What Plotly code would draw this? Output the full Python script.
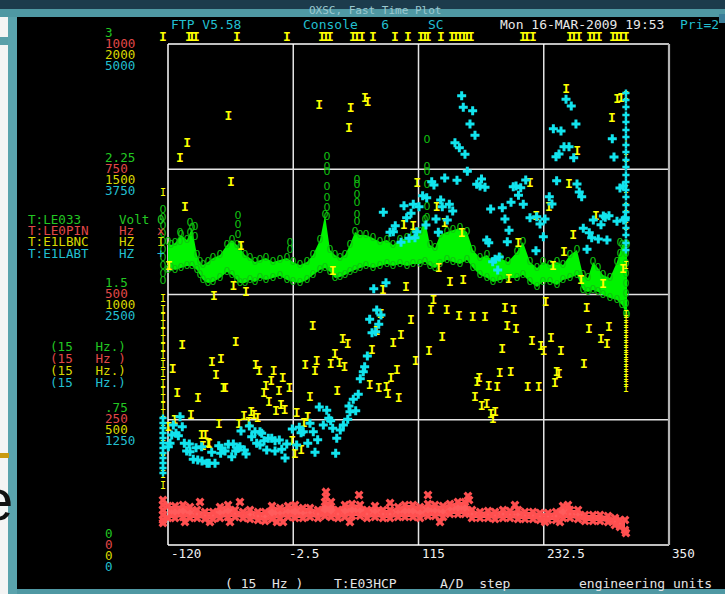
import plotly.graph_objects as go

# ---------------- data ----------------
X_RANGE = [-120, 350]
X_GRID = [-2.5, 115, 232.5]
X_TICK_VALUES = [-120, -2.5, 115, 232.5, 350]
X_TICK_TEXT = ["-120", "-2.5", "115", "232.5", "350"]

CH_NAMES = ["T:LE033", "T:LE0PIN", "T:E1LBNC", "T:E1LABT"]
CH_UNITS = ["Volt", "Hz", "HZ", "HZ"]
CH_SYMBOLS = ["0", "x", "I", "+"]
CH_RATES = ["(15   Hz.)", "(15   Hz )", "(15   Hz.)", "(15   Hz.)"]
CH_MAX = [3, 1000, 2000, 5000]
GREEN_TICKS = ["0", ".75", "1.5", "2.25", "3"]
RED_TICKS = ["0", "250", "500", "750", "1000"]
YELLOW_TICKS = ["0", "500", "1000", "1500", "2000"]
CYAN_TICKS = ["0", "1250", "2500", "3750", "5000"]

HEADER = ["FTP V5.58", "Console   6", "SC", "Mon 16-MAR-2009 19:53", "Pri=2"]
FOOTER = ["( 15  Hz )", "T:E03HCP", "A/D  step", "engineering units"]
WINDOW_TITLE = "OXSC, Fast Time Plot"

# T:LE033 (Volt) -- dense band: lower / upper envelope
GREEN_X = [-120.0, -117.2, -113.4, -107.8, -102.2, -97.5, -92.8, -90.0, -87.2, -82.5,
           -77.8, -71.2, -64.7, -60.0, -55.3, -52.5, -47.8, -43.1, -38.4, -33.7,
           -28.1, -21.5, -15.0, -8.4, -2.7, 3.8, 10.4, 16.0, 22.6, 27.3,
           32.0, 36.7, 41.4, 46.0, 50.7, 55.4, 60.1, 65.7, 72.3, 78.9,
           85.4, 91.1, 97.6, 104.2, 109.8, 116.4, 121.1, 125.8, 130.5, 135.2,
           141.7, 147.4, 153.9, 160.5, 166.1, 172.7, 179.3, 184.9, 191.5, 199.0,
           207.4, 213.0, 219.6, 226.2, 231.8, 238.4, 244.9, 250.6, 257.1, 263.7,
           269.3, 274.0, 278.7, 283.4, 288.1, 294.6, 301.2, 305.9, 310.6]
GREEN_HI = [1.814, 1.796, 1.808, 1.856, 1.826, 1.898, 1.737, 1.695, 1.677, 1.695,
            1.719, 1.737, 1.796, 1.826, 1.796, 1.778, 1.737, 1.719, 1.695, 1.707,
            1.719, 1.695, 1.707, 1.719, 1.695, 1.677, 1.695, 1.737, 1.826, 1.976,
            1.766, 1.737, 1.719, 1.737, 1.796, 1.874, 1.856, 1.856, 1.838, 1.814,
            1.826, 1.796, 1.826, 1.838, 1.856, 1.874, 1.946, 1.796, 1.778, 1.856,
            1.874, 1.886, 1.898, 1.874, 1.766, 1.719, 1.737, 1.695, 1.719, 1.695,
            1.755, 1.814, 1.695, 1.659, 1.695, 1.677, 1.695, 1.677, 1.737, 1.766,
            1.617, 1.599, 1.695, 1.659, 1.617, 1.599, 1.695, 1.796, 1.796]
GREEN_LO = [1.647, 1.659, 1.647, 1.659, 1.671, 1.671, 1.647, 1.617, 1.587, 1.569,
            1.575, 1.599, 1.635, 1.617, 1.587, 1.569, 1.569, 1.587, 1.575, 1.599,
            1.587, 1.599, 1.611, 1.587, 1.575, 1.569, 1.587, 1.617, 1.647, 1.659,
            1.635, 1.599, 1.605, 1.617, 1.635, 1.647, 1.659, 1.671, 1.659, 1.671,
            1.683, 1.671, 1.683, 1.671, 1.683, 1.683, 1.695, 1.671, 1.659, 1.683,
            1.707, 1.695, 1.683, 1.707, 1.659, 1.617, 1.599, 1.575, 1.587, 1.599,
            1.599, 1.617, 1.575, 1.545, 1.575, 1.575, 1.557, 1.587, 1.599, 1.617,
            1.527, 1.515, 1.527, 1.515, 1.497, 1.479, 1.467, 1.437, 1.377]
GREEN_PT_X = [29.2, 29.2, 29.2, 29.2, 29.2, 29.2, 29.2,
              57.3, 57.3, 57.3, 57.3, 57.3, 57.3,
              -54.3, -54.3, -54.3, -99.4, -99.4, -94.7, -94.7, -108.7, -108.7, -5.6, -5.6,
              123.0, 123.0, 123.0, 123.0, 123.0, 123.0, 304.0, 304.0,
              -124.7, -124.7, -124.7, -124.7, -124.7, -124.7, -124.7, -124.7, -124.7, -124.7,
              309.6, 309.6, 309.6, 309.6, 309.6, 309.6, 309.6, 309.6]
GREEN_PT_Y = [2.323, 2.263, 2.234, 2.144, 2.078, 2.018, 1.964,
              2.186, 2.156, 2.096, 2.048, 1.976, 1.934,
              1.970, 1.916, 1.856, 1.928, 1.868, 1.900, 1.840, 1.868, 1.814, 1.808, 1.766,
              2.425, 2.263, 2.234, 2.156, 2.024, 1.958, 1.808, 1.740,
              2.006, 1.958, 1.910, 1.862, 1.814, 1.766, 1.719, 1.671, 1.623, 1.581,
              1.80, 1.74, 1.68, 1.62, 1.56, 1.50, 1.44, 1.38]

# T:LE0PIN (Hz) -- band
RED_X = [-120.0, -113.4, -105.9, -99.4, -92.8, -85.3, -77.8, -71.2, -63.7, -57.1,
         -49.6, -43.1, -35.6, -29.0, -22.4, -14.9, -7.4, -0.8, 6.6, 13.2,
         20.7, 27.3, 32.9, 39.5, 46.0, 52.6, 60.1, 66.7, 74.2, 81.7,
         88.3, 95.8, 102.3, 109.8, 116.4, 123.9, 130.5, 138.0, 144.5, 152.0,
         158.6, 165.2, 172.7, 180.2, 186.8, 194.3, 200.8, 208.3, 214.9, 222.4,
         229.0, 236.5, 244.0, 250.6, 257.1, 264.6, 271.2, 278.7, 285.3, 292.8,
         299.3, 304.0, 308.7]
RED_HI = [78, 78, 80, 76, 70, 66, 66, 76, 80, 70,
          66, 70, 66, 66, 78, 74, 78, 80, 74, 74,
          70, 86, 86, 70, 80, 82, 80, 70, 78, 70,
          70, 76, 80, 80, 76, 82, 80, 78, 82, 86,
          86, 70, 66, 68, 66, 70, 68, 70, 66, 66,
          64, 64, 66, 78, 70, 70, 60, 60, 60, 58,
          54, 50, 50]
RED_LO = [54, 54, 56, 54, 54, 52, 52, 54, 56, 56,
          54, 52, 50, 48, 52, 54, 56, 54, 54, 56,
          54, 58, 56, 54, 56, 58, 58, 54, 56, 54,
          54, 56, 56, 56, 54, 58, 58, 56, 62, 62,
          62, 54, 54, 54, 52, 54, 54, 52, 52, 52,
          50, 50, 50, 54, 54, 52, 48, 48, 48, 46,
          40, 36, 30]
RED_PT_X = [28.2, 28.2, 59.2, 123.9, 161.4, 162.4, -90.0, -52.5, 88.3, 205.5, 255.2,
            -104.1, -80.6, -61.8, -17.8, -12.1, 50.7, 135.2, 233.7, 247.7, 309.6,
            -124.7, -124.7, -124.7, -124.7, -124.7, -124.7]
RED_PT_Y = [106, 96, 100, 100, 98, 90, 86, 86, 84, 80, 80,
            46, 46, 46, 46, 46, 46, 46, 46, 46, 24,
            90, 80, 70, 60, 50, 44]

# T:E1LBNC (HZ)
YELLOW_X = [-63.4, -101.9, -108.7, -60.9, -104.1, 21.9, 51.4, 64.8, 67.3, 49.8,
            113.8, 101.4, 110.1, -51.5, 34.5, -58.7, -46.8, -76.9, 81.7, 103.2,
            -119.1, 253.6, 301.4, 305.2, 296.5, 263.9, 219.6, 256.1, 132.0, 139.5,
            155.5, 237.4, 225.5, 281.5, 260.2, 208.6, 251.4, 133.9, 144.5, 157.0,
            199.6, 128.9, 241.1, 267.4, 288.0, 306.8,
            -106.6, -115.6, -111.3, -98.4, -91.9, -78.7, -70.3, -75.0, -68.1, -66.3,
            -56.5, -37.7, -34.4, -20.9, -12.4, -23.1, -28.1, -30.0, -15.9, -6.2,
            -25.3, -18.7, -10.5, -14.0, -41.9, -48.7, -39.3, -35.9, -53.4, -44.3,
            -72.2, -88.4, -85.0, -82.2, -81.3, -113.7, -119.7, -87.2,
            15.7, 43.9, 48.6, 36.6, 19.5, 8.8, 32.6, 40.7, 45.4, 17.9,
            13.2, 38.8, 0.7, 11.0, 7.6, -3.4, 5.0, -0.9,
            79.5, 75.8, 71.4, 69.2, 77.6, 84.8, 86.4, 89.2, 94.8, 91.3,
            98.6, 107.9, 112.3, 96.4,
            126.7, 141.4, 153.0, 165.8, 177.4, 137.3, 124.8, 196.1, 204.3, 198.3,
            206.4, 234.3, 221.4, 193.6, 229.9, 232.4, 239.3, 248.6, 191.1, 201.5,
            172.0, 170.1, 180.8, 188.9, 168.0, 174.3, 178.9, 183.0, 187.0, 184.9,
            217.5, 227.7, 244.6, 246.8, 243.0, 270.2, 272.7, 274.9, 293.7, 286.2,
            291.8]
YELLOW_Y = [1710, 1600, 1541, 1446, 1347, 1753, 1743, 1783, 1766, 1661,
            1444, 1275, 1271, 1191, 1090, 1031, 1005, 989, 1015, 1027,
            1109, 1819, 1779, 1783, 1703, 1568, 1444, 1437, 1347, 1284,
            1244, 1347, 1311, 1311, 1235, 1204, 1165, 1103, 1047, 1055,
            1058, 975, 1111, 1055, 1038, 1098,
            794, 699, 603, 515, 582, 728, 741, 677, 623, 623,
            808, 715, 691, 691, 664, 652, 632, 603, 612, 622,
            568, 532, 536, 555, 528, 512, 515, 502, 479, 486,
            479, 435, 435, 406, 400, 495, 468, 392,
            872, 821, 798, 759, 732, 715, 719, 723, 709, 692,
            586, 612, 523, 508, 483, 412, 375, 362,
            918, 852, 776, 636, 622, 626, 599, 662, 696, 802,
            834, 897, 732, 582,
            934, 934, 911, 906, 906, 829, 772, 942, 934, 872,
            858, 965, 812, 781, 792, 772, 825, 772, 683, 688,
            662, 648, 632, 628, 588, 550, 560, 519, 528, 499,
            626, 628, 688, 679, 642, 719, 942, 861, 866, 821,
            798]
# values above 2000 pinned at the top edge
YELLOW_TOP_X = [-124.7, -100.3, -97.5, -93.7, -55.3, -8.4, 24.5, 28.2, 32.0, 53.5,
                57.3, 62.0, 72.3, 92.9, 105.1, 117.3, 121.0, 123.9, 136.1, 146.4,
                150.1, 153.9, 157.6, 160.5, 164.2, 213.0, 216.7, 222.4, 257.1, 260.8,
                265.5, 275.8, 279.6, 284.3, 297.4, 301.2, 304.9, 309.6]
YELLOW_TOP_Y = [2024] * len(YELLOW_TOP_X)
YELLOW_COL_X = [309.6] * 23 + [-124.7] * 25
YELLOW_COL_Y = [1790, 1605, 1537, 1417, 1345, 1266, 1110, 918, 898, 878, 858, 838,
                818, 798, 778, 758, 739, 719, 699, 679, 659, 639, 619,
                1405, 978, 938, 906, 878, 846, 818, 786, 754, 715, 679, 639, 607,
                579, 547, 519, 491, 459, 427, 399, 371, 339, 307, 279, 232]

# T:E1LABT (HZ)
CYAN_X = [82.0, 101.4, 110.1, 115.5, 103.9, 108.0, 93.2, 88.3, 91.4, 98.6,
          106.1, 111.7, 113.3, 84.5, 73.0, 155.5, 157.0, 165.8, 163.3, 168.0,
          149.2, 153.3, 158.6, 160.8, 139.6, 151.1, 127.4, 129.5, 174.1, 169.6,
          177.4, 172.7, 215.6, 206.5, 203.9, 210.9, 118.9, 122.7, 208.8, 135.8,
          143.9, 137.3, 201.8, 193.6, 182.7, 213.3, 147.1, 131.4, 142.0, 196.1,
          219.6, 225.9, 229.0, 233.7, 122.0, 133.6, 199.9, 179.0, 180.9, 198.3,
          232.1, 225.2, 186.8, 184.6, 190.8, 189.3, 253.4, 258.3, 241.5, 248.7,
          262.7, 296.8, 251.5, 256.2, 244.0, 246.8, 260.6, 298.4, 244.6, 263.7,
          237.7, 240.2, 265.8, 268.1, 304.0, 307.1, 279.0, 288.4, 293.7, 290.2,
          286.2, 301.2, 269.6, 275.2, 277.5, 283.7, 291.8, 273.1, 309.0, 307.5,
          75.8, 79.8, 69.2, 77.7, 71.4, 74.8, 67.0, 64.5, 63.2, 60.4,
          58.5, 53.8, 49.8, 56.1, 50.7, 48.6, 44.5, 41.6, 21.9, 28.9,
          25.7, 30.8, 32.6, 34.5, 38.3, 37.3, 20.4, 16.3, 17.9, 11.1,
          13.2, 6.9, 4.8, 3.2, -3.4, 0.7, -8.6, -13.3, -10.2, -22.7,
          -25.9, -19.6, -15.6, -29.9, -36.8, -33.7, -27.4, -19.6, -32.1, -33.7,
          -41.5, -38.4, -51.5, -43.7, -46.8, -48.4, -54.6, -58.7, -63.4, -60.2,
          -56.5, -52.5, -66.5, -69.6, -72.4, -70.6, -79.0, -75.9, -81.3, -83.4,
          -88.1, -92.1, -96.3, -88.4, -93.7, -99.4, -102.5, -104.7, -100.0, -110.3,
          -112.5, -116.5, -118.1, -119.7, -108.7, -106.6, -115.0]
CYAN_Y = [3320, 3386, 3400, 3376, 3266, 3310, 3187, 3121, 3127, 3021,
          3061, 3067, 3127, 2618, 2558, 4484, 4368, 4334, 4202, 4089,
          4015, 3965, 3899, 3730, 3663, 3640, 3626, 3593, 3653, 3600,
          3570, 3583, 3643, 3583, 3576, 3566, 3486, 3466, 3490, 3443,
          3400, 3376, 3420, 3366, 3353, 3400, 3333, 3253, 3244, 3253,
          3266, 3276, 3204, 3253, 3194, 3121, 3141, 3044, 3017, 3027,
          3077, 2937, 2851, 2827, 2874, 2745, 4448, 4381, 4155, 4132,
          4202, 4055, 3975, 3975, 3875, 3902, 3865, 3872, 3636, 3603,
          3476, 3403, 3523, 3476, 3563, 3583, 3244, 3283, 3286, 3270,
          3197, 3231, 3161, 3117, 3067, 3054, 3044, 2951, 3266, 3244,
          2345, 2295, 2252, 2203, 2119, 2129, 1886, 1779, 1730, 1660,
          1504, 1454, 1387, 1340, 1330, 1254, 1198, 1148, 1377, 1344,
          1198, 1264, 1241, 1165, 1065, 915, 1051, 1131, 925, 1015,
          1215, 1131, 1121, 1175, 1158, 998, 1008, 955, 868, 1065,
          1065, 1041, 1048, 1041, 1015, 998, 948, 938, 1115, 1131,
          1081, 1131, 1138, 1188, 908, 948, 965, 1008, 1005, 881,
          938, 981, 938, 965, 991, 915, 925, 815, 815, 815,
          838, 848, 855, 981, 971, 931, 938, 1015, 1008, 1091,
          1115, 1098, 1015, 981, 1280, 1181, 1198]
CYAN_COL_X = [309.6] * 22 + [-124.7] * 12
CYAN_COL_Y = [4511, 4441, 4371, 4291, 4222, 4142, 4072, 3992, 3922, 3842, 3772,
              3693, 3623, 3543, 3473, 3393, 3323, 3244, 3164, 3094, 3014, 2944,
              1267, 1218, 1168, 1118, 1068, 1018, 968, 918, 868, 818, 768, 719]

# ---------------- geometry / style ----------------
W, H = 725, 594
PL, PR, PT, PB = 168, 669, 44, 545  # plot frame in pixels
X_LEFT_PAD = 6.0       # extra x range so points pinned left of the frame stay drawn
Y_TOP_PAD = 0.016      # extra fraction of range so points pinned above the frame stay drawn


def fx(px):
    return px / W


def fy(py):
    return (H - py) / H


ppx = (PR - PL) / (X_RANGE[1] - X_RANGE[0])
dom_left_px = PL - X_LEFT_PAD * ppx
dom_top_px = PB - (PB - PT) * (1 + Y_TOP_PAD)

MONO = "DejaVu Sans Mono"
C_GREEN, C_RED, C_YEL, C_CYAN = "#00ff00", "#ff5a5a", "#ffff00", "#12e4ee"
T_GREEN, T_RED, T_YEL, T_CYAN = "#22c722", "#e04848", "#d8d800", "#22bfcf"
TXT_COLORS = [T_GREEN, T_RED, T_YEL, T_CYAN]
GRID = "#e4e4e4"

fig = go.Figure()

# red band
fig.add_trace(go.Scatter(x=RED_X, y=RED_LO, yaxis="y2", mode="lines",
                         line=dict(width=0, color=C_RED), hoverinfo="skip"))
fig.add_trace(go.Scatter(x=RED_X, y=RED_HI, yaxis="y2", mode="lines", fill="tonexty",
                         fillcolor="#ff5c5c", line=dict(width=0, color=C_RED), hoverinfo="skip"))
fig.add_trace(go.Scatter(x=RED_X + RED_X + RED_PT_X, y=RED_HI + RED_LO + RED_PT_Y, yaxis="y2",
                         mode="markers", cliponaxis=False,
                         marker=dict(symbol="x", size=8, color="#ff5050",
                                     line=dict(width=0))))

# green band
fig.add_trace(go.Scatter(x=GREEN_X, y=GREEN_LO, yaxis="y", mode="lines",
                         line=dict(width=0, color=C_GREEN), hoverinfo="skip"))
fig.add_trace(go.Scatter(x=GREEN_X, y=GREEN_HI, yaxis="y", mode="lines", fill="tonexty",
                         fillcolor="#00f400", line=dict(width=0, color=C_GREEN), hoverinfo="skip"))
gx = GREEN_X + GREEN_X + GREEN_PT_X
gy = GREEN_HI + GREEN_LO + GREEN_PT_Y
fig.add_trace(go.Scatter(x=gx, y=gy, yaxis="y", mode="text", text=["0"] * len(gx),
                         cliponaxis=False,
                         textfont=dict(family="DejaVu Sans", size=11, color="#10c410")))

# cyan
fig.add_trace(go.Scatter(x=CYAN_X, y=CYAN_Y, yaxis="y4", mode="markers", cliponaxis=False,
                         marker=dict(symbol="cross", size=7.5, color=C_CYAN, line=dict(width=0))))
fig.add_trace(go.Scatter(x=CYAN_COL_X, y=CYAN_COL_Y, yaxis="y4", mode="markers", cliponaxis=False,
                         marker=dict(symbol="cross", size=6, color=C_CYAN, line=dict(width=0))))

# yellow (I-beam glyphs)
yx = YELLOW_X + YELLOW_TOP_X
yy = YELLOW_Y + YELLOW_TOP_Y
fig.add_trace(go.Scatter(x=yx, y=yy, yaxis="y3", mode="text", text=["<b>I</b>"] * len(yx),
                         cliponaxis=False,
                         textfont=dict(family="DejaVu Sans Mono", size=13, color=C_YEL)))
fig.add_trace(go.Scatter(x=YELLOW_COL_X, y=YELLOW_COL_Y, yaxis="y3", mode="text",
                         text=["I"] * len(YELLOW_COL_X), cliponaxis=False,
                         textfont=dict(family="DejaVu Sans Mono", size=10, color=C_YEL)))

dom_x = [fx(dom_left_px), fx(PR)]
dom_y = [fy(PB), fy(dom_top_px)]
base = dict(showticklabels=False, showgrid=False, zeroline=False, showline=False, ticks="")

fig.update_layout(
    width=W, height=H, margin=dict(l=0, r=0, t=0, b=0),
    paper_bgcolor="black", plot_bgcolor="black", showlegend=False,
    xaxis=dict(range=[X_RANGE[0] - X_LEFT_PAD, X_RANGE[1]], domain=dom_x, **base),
    yaxis=dict(range=[0, CH_MAX[0] * (1 + Y_TOP_PAD)], domain=dom_y, **base),
    yaxis2=dict(range=[0, CH_MAX[1] * (1 + Y_TOP_PAD)], domain=dom_y, overlaying="y", **base),
    yaxis3=dict(range=[0, CH_MAX[2] * (1 + Y_TOP_PAD)], domain=dom_y, overlaying="y", **base),
    yaxis4=dict(range=[0, CH_MAX[3] * (1 + Y_TOP_PAD)], domain=dom_y, overlaying="y", **base),
)

shapes = []
# grid lines inside the frame
for gv in X_GRID:
    shapes.append(dict(type="line", xref="x", yref="paper", x0=gv, x1=gv, y0=fy(PB), y1=fy(PT),
                       layer="below", line=dict(color=GRID, width=1.5)))
for k in (1, 2, 3):
    v = CH_MAX[0] * k / 4
    shapes.append(dict(type="line", xref="paper", yref="y", x0=fx(PL), x1=fx(PR), y0=v, y1=v,
                       layer="below", line=dict(color=GRID, width=1.5)))
# window chrome
shapes.append(dict(type="rect", xref="paper", yref="paper", x0=0, x1=1, y0=fy(9), y1=1,
                   fillcolor="#1c3b4c", line=dict(width=0)))
shapes.append(dict(type="rect", xref="paper", yref="paper", x0=0, x1=1, y0=fy(17), y1=fy(9),
                   fillcolor="#4f98a3", line=dict(width=0)))
shapes.append(dict(type="rect", xref="paper", yref="paper", x0=0, x1=fx(8), y0=0, y1=fy(17),
                   fillcolor="#f4f4f4", line=dict(width=0)))
shapes.append(dict(type="rect", xref="paper", yref="paper", x0=0, x1=fx(8), y0=fy(45), y1=fy(37),
                   fillcolor="#5a9fa9", line=dict(width=0)))
shapes.append(dict(type="rect", xref="paper", yref="paper", x0=fx(8), x1=fx(17), y0=0, y1=fy(17),
                   fillcolor="#5aa3ad", line=dict(width=0)))
shapes.append(dict(type="rect", xref="paper", yref="paper", x0=fx(17), x1=1, y0=0, y1=fy(589),
                   fillcolor="#4f98a3", line=dict(width=0)))
shapes.append(dict(type="rect", xref="paper", yref="paper", x0=fx(719), x1=1, y0=fy(23), y1=fy(14),
                   fillcolor="#3c7f9a", line=dict(width=0)))
shapes.append(dict(type="rect", xref="paper", yref="paper", x0=0, x1=fx(9), y0=fy(458), y1=fy(453),
                   fillcolor="#c99a10", line=dict(width=0)))
# plot frame
shapes.append(dict(type="line", xref="paper", yref="paper", x0=fx(PL), x1=fx(PL), y0=fy(PB), y1=fy(PT),
                   layer="below", line=dict(color="#ffffff", width=1.5)))
shapes.append(dict(type="line", xref="paper", yref="paper", x0=fx(PL), x1=fx(PR), y0=fy(PT), y1=fy(PT),
                   layer="below", line=dict(color="#ffffff", width=1.5)))
shapes.append(dict(type="line", xref="paper", yref="paper", x0=fx(PL), x1=fx(PR), y0=fy(PB), y1=fy(PB),
                   line=dict(color="#ffffff", width=1.5)))
shapes.append(dict(type="line", xref="paper", yref="paper", x0=fx(PR), x1=fx(PR), y0=fy(PB), y1=fy(PT),
                   line=dict(color="#b4b4b4", width=2.2)))
fig.update_layout(shapes=shapes)

ann = []


def text(px, py, s, color, size=12.6, family=MONO, anchor="left"):
    ann.append(dict(x=fx(px), y=fy(py), xref="paper", yref="paper", text=s, showarrow=False,
                    xanchor=anchor, yanchor="middle",
                    font=dict(family=family, size=size, color=color)))


# window title (faint)
text(375, 11, WINDOW_TITLE, "#9cc9d0", size=11, anchor="center")
# header
hdr_x = [169, 301, 426, 498, 678]
hdr_c = [T_CYAN, T_CYAN, T_CYAN, "#e8e8e8", T_CYAN]
for s, x0, c in zip(HEADER, hdr_x, hdr_c):
    text(x0, 24, s, c, size=13)
# footer
ftr_x = [223, 332, 438, 577]
for s, x0 in zip(FOOTER, ftr_x):
    text(x0, 583, s, "#e4e4e4", size=13)

# channel legend
for i, (n, u, sym) in enumerate(zip(CH_NAMES, CH_UNITS, CH_SYMBOLS)):
    line = n.ljust(12) + u.ljust(5) + sym
    text(26, 219 + i * 11.4, line, TXT_COLORS[i])
for i, r in enumerate(CH_RATES):
    text(48, 346 + i * 12.2, r, TXT_COLORS[i])

# stacked left tick labels from each channel's scale
shifts = [12, 1, -10, -21]
for ci, (labels, axis) in enumerate(zip([GREEN_TICKS, RED_TICKS, YELLOW_TICKS, CYAN_TICKS],
                                        ["y", "y2", "y3", "y4"])):
    for k, lab in enumerate(labels):
        ann.append(dict(x=fx(103), xref="paper", y=CH_MAX[ci] * k / 4, yref=axis, text=lab,
                        showarrow=False, xanchor="left", yanchor="middle", yshift=shifts[ci],
                        font=dict(family=MONO, size=12.6, color=TXT_COLORS[ci])))

# x tick labels
xshift = {"-2.5": -6}
for v, lab in zip(X_TICK_VALUES, X_TICK_TEXT):
    ann.append(dict(x=v, xref="x", y=fy(553), yref="paper", text=lab, showarrow=False,
                    xanchor="left", yanchor="middle", xshift=xshift.get(lab, 1),
                    font=dict(family=MONO, size=12.6, color="#f0f0f0")))

# partially visible slide letter at far left
text(-3, 500, "e", "#111111", size=58, family="Liberation Sans", anchor="center")

fig.update_layout(annotations=ann)
fig.write_html("out.html", config={"displayModeBar": False},
               post_script="document.body.style.margin='0';"
                           "document.body.style.background='black';")
